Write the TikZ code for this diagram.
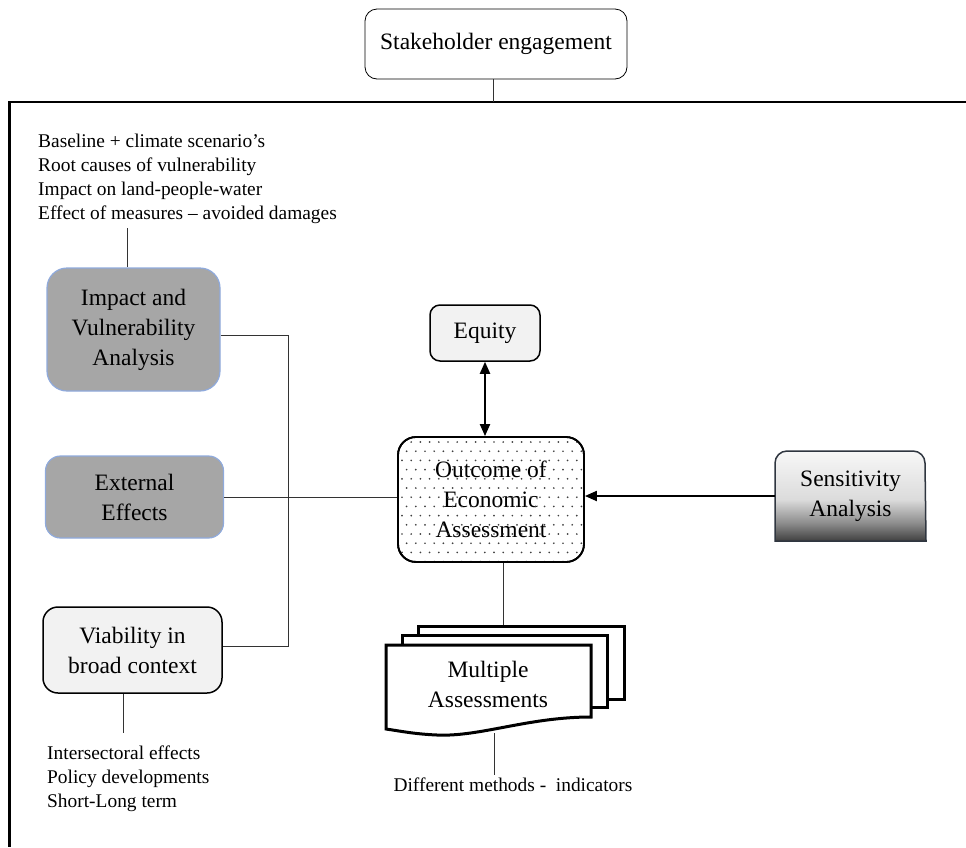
\documentclass[tikz,border=0pt]{standalone}
\usepackage{fontspec}
\setmainfont{Liberation Serif}
\usetikzlibrary{arrows.meta,calc}
\definecolor{boxgray}{HTML}{A6A6A6}
\definecolor{boxblue}{HTML}{8FAADC}
\definecolor{lightfill}{HTML}{F2F2F2}
\definecolor{sensline}{HTML}{2F3640}
\pgfdeclareverticalshading{sensshade}{100bp}{color(0bp)=(black!75); color(25bp)=(black!75); color(35bp)=(black!45); color(48bp)=(black!14); color(75bp)=(black!3); color(100bp)=(black!3)}
\begin{document}
\begin{tikzpicture}[x=1pt,y=-1pt,
  every node/.style={font=\fontsize{23.5}{30}\selectfont, align=center, inner sep=0pt},
  notes/.style={font=\fontsize{19.4}{24}\selectfont, align=left, inner sep=0pt},
  gbox/.style={fill=boxgray, draw=boxblue, line width=1.2},
  lbox/.style={fill=lightfill, draw=black, line width=1.5},
  conn/.style={draw=black!80, line width=1},
  arr/.style={line width=2, -{Triangle[length=12pt,width=10pt]}},
  doc/.style={fill=white, draw=black, line width=3, line join=miter}]
\useasboundingbox (0,0) rectangle (966,847);

% frame
\draw[line width=2.2] (966,102) -- (9.5,102) -- (9.5,847);

% stakeholder
\node[draw=black, line width=0.8, rounded corners=12, minimum width=262, minimum height=70, fill=white] (stake) at (496,44) {Stakeholder engagement};
\coordinate (ftop) at (493,102);
\draw[conn] (stake.south -| ftop) -- (ftop);

% top notes
\node[notes, anchor=north west] (topnotes) at (38,134) {Baseline + climate scenario’s\\Root causes of vulnerability\\Impact on land-people-water\\Effect of measures – avoided damages};

% left boxes
\node[gbox, rounded corners=20, minimum width=173, minimum height=123] (impact) at (133.5,329.5) {Impact and\\Vulnerability\\Analysis};
\node[gbox, rounded corners=15, minimum width=178, minimum height=82] (external) at (134.5,497) {External\\Effects};
\node[lbox, rounded corners=15, minimum width=179, minimum height=86] (viab) at (132.5,650) {Viability in\\broad context};

\coordinate (c1) at (127,228);
\draw[conn] (impact.north -| c1) -- (c1);

\node[notes, anchor=north west] (botnotes) at (47,746) {Intersectoral effects\\Policy developments\\Short-Long term};
\coordinate (c2) at (123,733);
\draw[conn] (viab.south -| c2) -- (c2);

% bracket
\coordinate (bt) at (288,335);
\coordinate (bb) at (288,646);
\draw[conn] (impact.east |- bt) -- (bt) -- (bb) -- (viab.east |- bb);

% equity and outcome
\node[lbox, rounded corners=10, minimum width=110, minimum height=56] (equity) at (485,333) {Equity};
\node[draw=black, fill=white, line width=1.8, rounded corners=18, minimum width=186, minimum height=125] (outcome) at (491,499.5) {Outcome of\\Economic\\Assessment};
\begin{scope}
\clip[rounded corners=18] (398,437) rectangle (584,562);
\foreach \r in {0,...,13} {
  \foreach \c in {0,...,20} {
    \fill[black!75] ({402+\c*9.2+mod(\r,2)*4.6},{442+\r*9.2}) circle (0.95);
  }
}
\end{scope}
\draw[line width=1.8, rounded corners=18] (398,437) rectangle (584,562);

\draw[line width=2, {Triangle[length=12pt,width=10pt]}-{Triangle[length=12pt,width=10pt]}] (equity.south) -- (equity.south |- outcome.north);

\draw[conn] (external.east) -- (external.east -| outcome.west);

% sensitivity
\path[draw=sensline, line width=1.5, shading=sensshade]
  (775,541) -- (775,463) arc[start angle=180, end angle=270, radius=12]
  -- (913,451) arc[start angle=270, end angle=360, radius=12]
  -- (926,541) -- cycle;
\node[minimum width=151, minimum height=90] (sens) at (850.5,496) {Sensitivity\\Analysis};
\draw[arr] (sens.west) -- (sens.west -| outcome.east);

% multiple documents
\node[doc, minimum width=206, minimum height=73] (back) at (521,662.5) {};
\node[doc, minimum width=205, minimum height=72] (mid) at (504.5,671) {};
\path[doc] (386,645) -- (591,645) -- (591,717)
  .. controls (528,717) and (480,737) .. (437,735)
  .. controls (414,734) and (400,731) .. (386,729) -- cycle;
\node (multi) at (488,684) {Multiple\\Assessments};
\coordinate (m1) at (503,0);
\draw[conn] (outcome.south -| m1) -- (back.north -| m1);

\node[notes, anchor=north, inner sep=3pt] (diff) at (513,775) {Different methods -\ \ indicators};
\coordinate (wv) at (494,733);
\draw[conn] (wv) -- (diff.north -| wv);
\end{tikzpicture}
\end{document}
